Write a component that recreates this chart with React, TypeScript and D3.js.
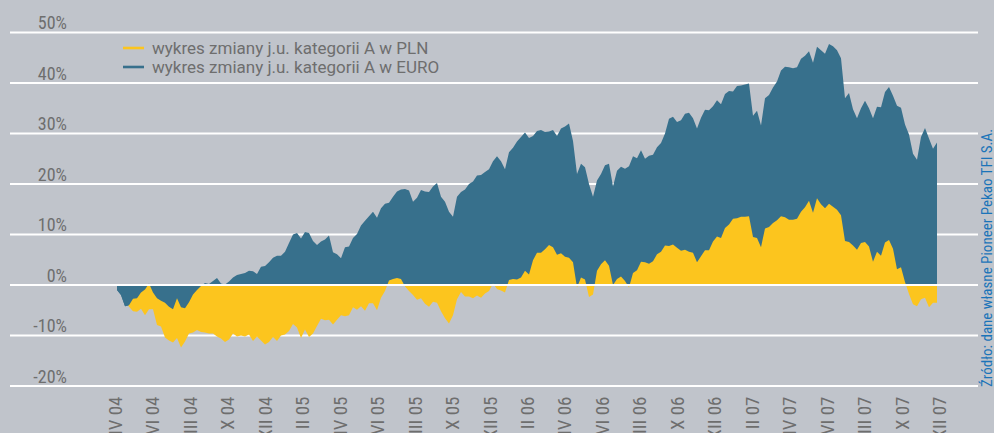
import React from 'react';
import * as d3 from 'd3';

const MONTH_LABELS = ['IV 04', 'VI 04', 'VIII 04', 'X 04', 'XII 04', 'II 05', 'IV 05', 'VI 05', 'VIII 05', 'X 05', 'XII 05', 'II 06', 'IV 06', 'VI 06', 'VIII 06', 'X 06', 'XII 06', 'II 07', 'IV 07', 'VI 07', 'VIII 07', 'X 07', 'XII 07'];
const Y_TICKS = [-20, -10, 0, 10, 20, 30, 40, 50];
const SERIES_NAMES = ['wykres zmiany j.u. kategorii A w PLN', 'wykres zmiany j.u. kategorii A w EURO'];
const SOURCE = 'Źródło: dane własne Pioneer Pekao TFI S.A.';

// weekly values, % change (PLN)
const PLN = [
  -0.8, -1.5, -3.0, -4.3, -5.2, -5.3, -4.7, -6.0, -4.8, -4.8,
  -7.9, -8.2, -10.4, -11.0, -11.4, -10.5, -12.4, -11.2, -9.6, -9.4,
  -8.9, -9.3, -9.4, -9.6, -9.6, -10.2, -10.6, -11.3, -10.8, -9.6,
  -10.2, -10.0, -10.2, -9.8, -11.1, -10.2, -11.0, -11.8, -11.3, -10.3,
  -11.1, -10.0, -9.8, -9.1, -7.7, -8.4, -10.5, -8.8, -10.3, -9.6,
  -8.1, -6.7, -7.0, -6.9, -7.8, -6.9, -6.0, -6.2, -6.0, -4.4,
  -4.9, -4.2, -5.1, -3.6, -3.6, -5.0, -2.5, -1.2, 0.9, 1.2,
  1.4, 1.2, -0.3, -1.2, -2.0, -2.9, -2.6, -3.7, -4.3, -3.3,
  -3.5, -5.2, -6.6, -7.6, -6.0, -2.8, -1.4, -2.3, -2.3, -2.6,
  -2.1, -2.5, -1.7, -1.2, 0.3, -0.8, -1.1, -1.5, 1.0, 1.2,
  1.1, 1.5, 2.8, 2.1, 4.9, 6.4, 6.4, 7.1, 7.9, 7.5,
  6.0, 6.3, 5.6, 5.4, 4.5, -0.5, 1.5, 1.1, -2.4, -1.9,
  2.8, 4.1, 4.9, 3.8, 0.0, 1.2, 1.7, 0.8, -0.5, 2.4,
  2.9, 4.6, 4.5, 4.2, 4.7, 6.1, 6.6, 7.8, 7.7, 8.0,
  7.4, 6.8, 7.0, 6.6, 6.4, 4.5, 5.7, 6.9, 6.9, 8.6,
  9.6, 9.3, 11.3, 12.0, 13.1, 13.2, 13.5, 13.5, 13.6, 9.5,
  9.3, 7.5, 11.2, 11.5, 12.3, 12.8, 13.6, 13.4, 12.9, 12.9,
  13.1, 14.5, 15.4, 16.7, 14.3, 17.2, 16.0, 15.2, 16.1, 15.5,
  14.9, 13.8, 8.7, 8.5, 7.8, 7.0, 8.3, 8.5, 7.6, 4.6,
  6.6, 5.8, 8.4, 8.9, 7.2, 3.1, 3.5, 0.6, -1.8, -3.8,
  -4.2, -2.8, -2.5, -4.4, -3.5, -3.5,
];

// weekly values, % change (EURO)
const EURO = [
  -1.0, -2.0, -4.2, -4.0, -2.7, -2.6, -1.5, -0.9, 0.3, -1.5,
  -2.6, -3.1, -3.5, -4.3, -4.8, -2.6, -4.4, -4.6, -3.4, -1.9,
  -1.0, -0.2, 0.4, 0.2, 0.8, 1.4, 0.3, 0.1, 0.7, 1.5,
  2.0, 2.2, 2.4, 2.8, 2.7, 2.2, 3.6, 3.75, 4.5, 5.4,
  5.8, 5.8, 6.6, 8.3, 10.0, 10.3, 9.2, 10.5, 10.3, 8.7,
  7.9, 8.6, 9.0, 9.8, 6.5, 6.1, 5.3, 7.5, 7.6, 9.3,
  10.1, 11.8, 12.7, 13.6, 14.5, 13.3, 15.2, 16.1, 16.3, 17.5,
  18.5, 18.9, 19.0, 18.7, 16.5, 17.3, 18.8, 18.5, 18.4, 19.5,
  20.2, 17.5, 16.5, 14.5, 13.5, 17.5, 18.4, 18.9, 20.0, 20.5,
  21.7, 21.8, 22.4, 22.9, 24.5, 25.5, 24.5, 22.9, 26.3, 27.2,
  28.4, 29.3, 30.2, 29.1, 29.5, 30.5, 30.7, 30.3, 30.4, 30.7,
  29.5, 31.0, 31.4, 32.0, 28.5, 22.0, 24.0, 23.3, 20.0, 17.5,
  20.7, 22.0, 23.7, 24.0, 19.5, 22.6, 23.4, 23.0, 23.5, 25.5,
  25.1, 26.7, 25.0, 25.6, 25.8, 27.3, 28.1, 30.0, 32.9, 33.3,
  32.3, 32.6, 33.9, 34.1, 33.0, 31.0, 33.1, 34.7, 34.6, 35.4,
  36.6, 35.8, 37.8, 38.4, 38.3, 39.4, 39.5, 39.7, 39.9, 33.5,
  34.5, 31.6, 37.0, 37.6, 39.1, 40.3, 42.5, 43.2, 43.1, 42.9,
  43.1, 44.8, 45.4, 46.3, 44.0, 47.2, 46.5, 45.8, 47.7, 47.3,
  46.5, 44.9, 37.0, 38.0, 34.8, 33.0, 35.0, 36.5, 35.0, 33.0,
  35.3, 35.2, 38.2, 39.2, 37.5, 35.5, 35.1, 31.8, 29.8, 26.0,
  24.8, 29.3, 31.1, 29.0, 27.0, 28.2,
];

const W = 994;
const H = 433;
const BG = '#c0c4cb';
const BLUE = '#37708c';
const YELLOW = '#fcc51e';
const TEXT = '#6e6e6e';
const NARROW = '"Liberation Sans Narrow", "Roboto Condensed", "DejaVu Sans Condensed", sans-serif';
const REGULAR = 'Roboto, "Liberation Sans", sans-serif';

export default function App() {
  const y = d3.scaleLinear().domain([-20, 50]).range([386, 32.5]);
  const xLab = d3.scalePoint<string>().domain(MONTH_LABELS).range([115, 939]);
  const xData = d3.scaleLinear().domain([0, EURO.length - 1]).range([117, 937]);
  const y0 = y(0);

  const area = d3
    .area<number>()
    .x((_, i) => xData(i))
    .y0(y0)
    .y1((d) => y(d))
    .curve(d3.curveLinear);

  const euroPath = area(EURO) || '';
  const plnPath = area(PLN) || '';

  return (
    <svg width={W} height={H} style={{ position: 'absolute', left: 0, top: 0, display: 'block' }}>
      <defs>
        <clipPath id="negClip">
          <rect x={0} y={y0} width={W} height={H - y0} />
        </clipPath>
      </defs>
      <rect x={0} y={0} width={W} height={H} fill={BG} />
      {Y_TICKS.filter((t) => t !== 0).map((t) => (
        <line key={'g' + t} x1={10} x2={978} y1={y(t)} y2={y(t)} stroke="#ffffff" strokeWidth={2} />
      ))}
      <path d={euroPath} fill={BLUE} />
      <path d={plnPath} fill={YELLOW} />
      <path d={euroPath} fill={BLUE} clipPath="url(#negClip)" />
      <line x1={10} x2={978} y1={y0} y2={y0} stroke="#ffffff" strokeWidth={2} />
      {Y_TICKS.map((t) => (
        <text
          key={'t' + t}
          x={67}
          y={y(t) - 3.5}
          textAnchor="end"
          fontFamily={NARROW}
          fontSize={18}
          fill={TEXT}
        >
          {t + '%'}
        </text>
      ))}
      {MONTH_LABELS.map((m) => (
        <text
          key={m}
          transform={`translate(${(xLab(m) || 0) + 7},396.5) rotate(-90)`}
          textAnchor="end"
          fontFamily={NARROW}
          fontSize={19}
          fill={TEXT}
        >
          {m}
        </text>
      ))}
      {SERIES_NAMES.map((name, i) => (
        <g key={name}>
          <line x1={123} x2={144} y1={48 + i * 19} y2={48 + i * 19} stroke={i === 0 ? YELLOW : BLUE} strokeWidth={2.6} />
          <text x={152} y={54 + i * 19} fontFamily={REGULAR} fontSize={17} fill={TEXT}>
            {name}
          </text>
        </g>
      ))}
      <text
        transform={`translate(992,387) rotate(-90)`}
        textAnchor="start"
        fontFamily={NARROW}
        fontSize={15}
        fill="#1b74b9"
      >
        {SOURCE}
      </text>
    </svg>
  );
}
